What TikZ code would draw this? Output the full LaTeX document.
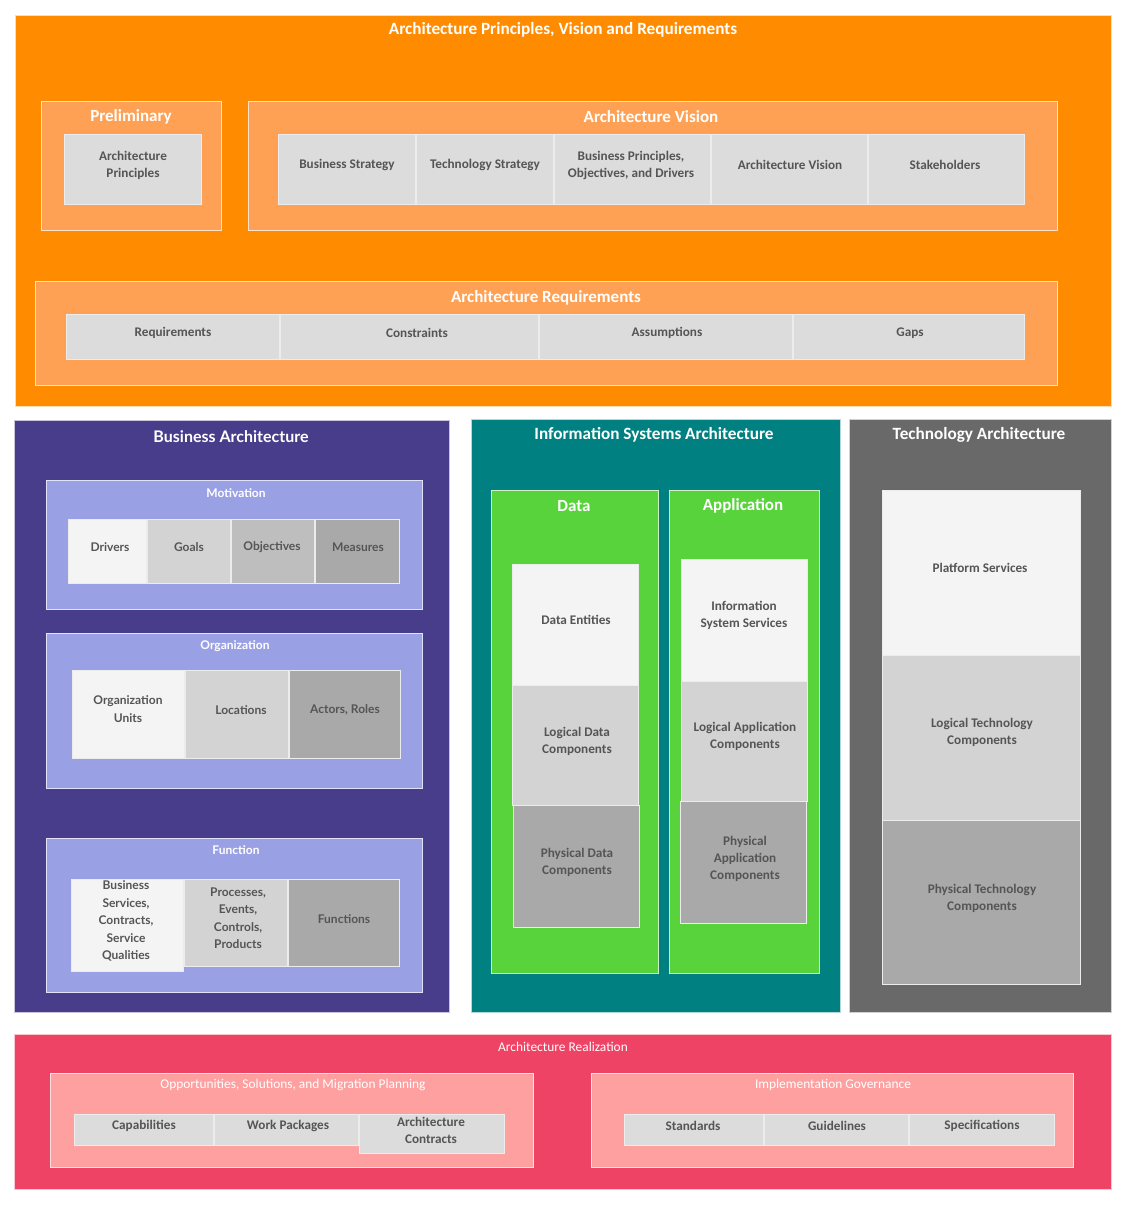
\documentclass[tikz,border=0pt]{standalone}
\usepackage{fontspec}
\setmainfont{Carlito}
\newfontfamily\bizfont{Lato}
\usepackage{tikz}
\usepackage{xcolor}

\definecolor{orangebg}{HTML}{FF8C00}
\definecolor{orangelt}{HTML}{FFA154}
\definecolor{cellgray}{HTML}{DCDCDC}
\definecolor{bizbg}{HTML}{483D8B}
\definecolor{bizlt}{HTML}{99A1E4}
\definecolor{tealbg}{HTML}{008080}
\definecolor{greenlt}{HTML}{58D33C}
\definecolor{techbg}{HTML}{696969}
\definecolor{redbg}{HTML}{EF4365}
\definecolor{pinklt}{HTML}{FFA0A0}
\definecolor{shadea}{HTML}{F4F4F4}
\definecolor{shadeb}{HTML}{D3D3D3}
\definecolor{shadec}{HTML}{BEBEBE}
\definecolor{shaded}{HTML}{A9A9A9}
\definecolor{txtgray}{HTML}{555555}

\tikzset{
    panel/.style={draw=white!70!#1, fill=#1, line width=0.8pt},
    cell/.style={draw=white!85!gray, fill=#1, line width=1pt},
    bigtitle/.style={text=white, font=\bfseries\fontsize{17.2}{20}\selectfont},
    midtitle/.style={text=white, font=\bfseries\fontsize{17}{20}\selectfont},
    smalltitle/.style={text=white, font=\fontsize{13.4}{15}\selectfont},
    label/.style={text=txtgray, align=center, font=\bfseries\fontsize{13.2}{17}\selectfont},
    bizlabel/.style={text=txtgray, align=center, font=\bizfont\bfseries\fontsize{12}{17.5}\selectfont},
    biztitle/.style={text=white, font=\bizfont\bfseries\fontsize{12}{14}\selectfont},
}

\begin{document}
\begin{tikzpicture}[x=1pt, y=-1pt]
    \useasboundingbox[fill=white] (0,0) rectangle (1132,1209);

    % Principles, Vision and Requirements
    \filldraw[panel=orangebg] (15,15) rectangle (1111,406);
    \node[bigtitle] (apvr) at (563,30) {Architecture Principles, Vision and Requirements};

    % Preliminary
    \filldraw[panel=orangelt] (41,101) rectangle (221,230);
    \node[midtitle] (prelim) at (131,117) {Preliminary};
    \filldraw[cell=cellgray] (64,135) rectangle (201,204);
    \node[label] (archprin) at (133,165) {Architecture\\Principles};

    % Vision
    \filldraw[panel=orangelt] (248,101) rectangle (1057,230);
    \node[midtitle] (vision) at (651,117) {Architecture Vision};
    \filldraw[cell=cellgray] (278,135) rectangle (415,204);
    \filldraw[cell=cellgray] (416,135) rectangle (553,204);
    \filldraw[cell=cellgray] (554,135) rectangle (710,204);
    \filldraw[cell=cellgray] (711,135) rectangle (867,204);
    \filldraw[cell=cellgray] (868,135) rectangle (1024,204);
    \node[label] (busstrat) at (347,165) {Business Strategy};
    \node[label] (techstrat) at (485,165) {Technology Strategy};
    \node[label] (busprin) at (631,165) {Business Principles,\\Objectives, and Drivers};
    \node[label] (archvis) at (790,165) {Architecture Vision};
    \node[label] (stake) at (945,165) {Stakeholders};

    % Requirements
    \filldraw[panel=orangelt] (35,281) rectangle (1057,385);
    \node[midtitle] (reqs) at (546,298) {Architecture Requirements};
    \filldraw[cell=cellgray] (66,314) rectangle (279,359);
    \filldraw[cell=cellgray] (280,314) rectangle (538,359);
    \filldraw[cell=cellgray] (539,314) rectangle (792,359);
    \filldraw[cell=cellgray] (793,314) rectangle (1024,359);
    \node[label] (req) at (173,333) {Requirements};
    \node[label] (cons) at (417,333) {Constraints};
    \node[label] (assum) at (667,333) {Assumptions};
    \node[label] (gaps) at (910,333) {Gaps};

    % Business Architecture
    \filldraw[panel=bizbg] (14,420) rectangle (449,1012);
    \node[midtitle, font=\bizfont\bfseries\fontsize{16}{19}\selectfont] (busarch) at (231,437) {Business Architecture};

    \filldraw[panel=bizlt] (46,480) rectangle (422,609);
    \node[biztitle] (motiv) at (236,493) {Motivation};
    \filldraw[cell=shadea] (68,519) rectangle (146,583);
    \filldraw[cell=shadeb] (147,519) rectangle (230,583);
    \filldraw[cell=shadec] (231,519) rectangle (314,583);
    \filldraw[cell=shaded] (315,519) rectangle (399,583);
    \node[bizlabel] (drivers) at (110,547) {Drivers};
    \node[bizlabel] (goals) at (189,547) {Goals};
    \node[bizlabel] (objs) at (272,547) {Objectives};
    \node[bizlabel] (meas) at (358,547) {Measures};

    \filldraw[panel=bizlt] (46,633) rectangle (422,788);
    \node[biztitle] (org) at (235,646) {Organization};
    \filldraw[cell=shadea] (72,670) rectangle (184,758);
    \filldraw[cell=shadeb] (185,670) rectangle (288,758);
    \filldraw[cell=shaded] (289,670) rectangle (400,758);
    \node[bizlabel] (orgunits) at (128,709) {Organization\\Units};
    \node[bizlabel] (locs) at (241,710) {Locations};
    \node[bizlabel] (actors) at (345,710) {Actors, Roles};

    \filldraw[panel=bizlt] (46,838) rectangle (422,992);
    \node[biztitle] (func) at (236,850) {Function};
    \filldraw[cell=shadea] (71,879) rectangle (183,971);
    \filldraw[cell=shadeb] (184,879) rectangle (287,966);
    \filldraw[cell=shaded] (288,879) rectangle (399,966);
    \node[bizlabel] (bussvc) at (126,921) {Business\\Services,\\Contracts,\\Service\\Qualities};
    \node[bizlabel] (procs) at (238,918) {Processes,\\Events,\\Controls,\\Products};
    \node[bizlabel] (funcs) at (344,919) {Functions};

    % Information Systems Architecture
    \filldraw[panel=tealbg] (471,419) rectangle (840,1012);
    \node[bigtitle] (isa) at (654,435) {Information Systems Architecture};

    \filldraw[panel=greenlt] (491,490) rectangle (658,973);
    \node[midtitle] (data) at (574,506) {Data};
    \filldraw[cell=shadea] (512,564) rectangle (638,685);
    \filldraw[cell=shadeb] (512,685) rectangle (638,805);
    \filldraw[cell=shaded] (513,805) rectangle (639,927);
    \node[label] (dataent) at (576,620) {Data Entities};
    \node[label] (logdata) at (577,741) {Logical Data\\Components};
    \node[label] (phydata) at (577,862) {Physical Data\\Components};

    \filldraw[panel=greenlt] (669,490) rectangle (819,973);
    \node[midtitle] (app) at (743,506) {Application};
    \filldraw[cell=shadea] (681,559) rectangle (807,681);
    \filldraw[cell=shadeb] (681,681) rectangle (807,801);
    \filldraw[cell=shaded] (680,801) rectangle (806,923);
    \node[label] (issvc) at (744,615) {Information\\System Services};
    \node[label] (logapp) at (745,736) {Logical Application\\Components};
    \node[label] (phyapp) at (745,859) {Physical\\Application\\Components};

    % Technology Architecture
    \filldraw[panel=techbg] (849,419) rectangle (1111,1012);
    \node[bigtitle] (techarch) at (979,435) {Technology Architecture};
    \filldraw[cell=shadea] (882,490) rectangle (1080,655);
    \filldraw[cell=shadeb] (882,655) rectangle (1080,820);
    \filldraw[cell=shaded] (882,820) rectangle (1080,984);
    \node[label] (platsvc) at (980,568) {Platform Services};
    \node[label] (logtech) at (982,732) {Logical Technology\\Components};
    \node[label] (phytech) at (982,898) {Physical Technology\\Components};

    % Architecture Realization
    \filldraw[panel=redbg] (14,1034) rectangle (1111,1189);
    \node[smalltitle] (realiz) at (563,1047) {Architecture Realization};

    \filldraw[panel=pinklt] (50,1073) rectangle (533,1167);
    \node[smalltitle] (oppor) at (293,1085) {Opportunities, Solutions, and Migration Planning};
    \filldraw[cell=cellgray] (74,1114) rectangle (213,1145);
    \filldraw[cell=cellgray] (214,1114) rectangle (358,1145);
    \filldraw[cell=cellgray] (359,1114) rectangle (504,1153);
    \node[label] (capab) at (144,1126) {Capabilities};
    \node[label] (workpk) at (288,1126) {Work Packages};
    \node[label] (contr) at (431,1130) {Architecture\\Contracts};

    \filldraw[panel=pinklt] (591,1073) rectangle (1073,1167);
    \node[smalltitle] (implgov) at (833,1085) {Implementation Governance};
    \filldraw[cell=cellgray] (624,1114) rectangle (763,1145);
    \filldraw[cell=cellgray] (764,1114) rectangle (908,1145);
    \filldraw[cell=cellgray] (909,1114) rectangle (1054,1145);
    \node[label] (stds) at (693,1126) {Standards};
    \node[label] (guide) at (837,1126) {Guidelines};
    \node[label] (specs) at (982,1126) {Specifications};
\end{tikzpicture}
\end{document}
